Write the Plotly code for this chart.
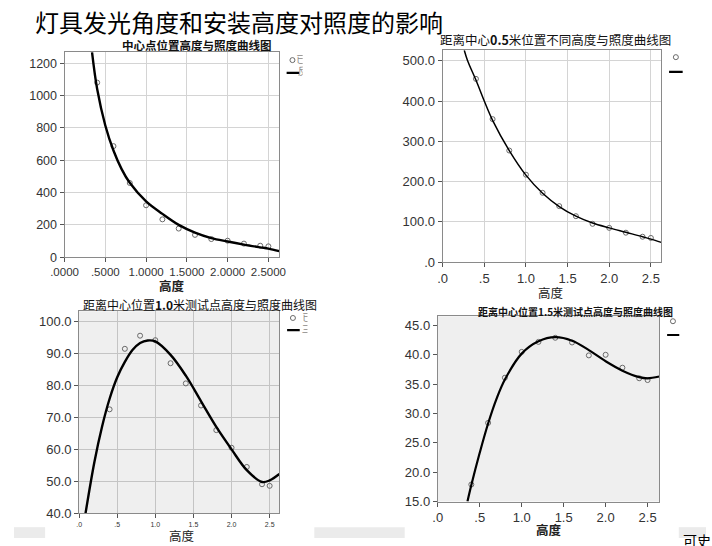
import plotly.graph_objects as go

W, H = 712, 546

# ---------------- data ----------------
heights = [0.4, 0.6, 0.8, 1.0, 1.2, 1.4, 1.6, 1.8, 2.0, 2.2, 2.4, 2.5]
lux_c00 = [1080, 687, 459, 321, 234, 177, 138, 112, 102, 84, 71, 67]
lux_c05 = [455, 355, 277, 217, 172, 139, 114, 95, 85, 73, 63, 60]
lux_c10 = [72.5, 91.4, 95.5, 94.1, 86.9, 80.6, 73.7, 66.0, 60.5, 54.5, 49.1, 48.6]
lux_c15 = [17.9, 28.4, 36.1, 40.5, 42.2, 42.9, 42.1, 39.9, 40.0, 37.8, 36.0, 35.7]

fit_x_c00 = [0.337, 0.4, 0.5, 0.6, 0.7, 0.8, 1.0, 1.2, 1.4, 1.6, 1.8, 2.0, 2.2, 2.4, 2.5, 2.634]
fit_y_c00 = [1268, 1040, 815, 660, 545, 460, 345, 268, 200, 152, 118, 97, 78, 61, 53, 37]

fit_x_c05 = [0.26, 0.3, 0.4, 0.5, 0.6, 0.8, 1.0, 1.2, 1.4, 1.6, 1.8, 2.0, 2.2, 2.4, 2.5, 2.625]
fit_y_c05 = [526, 500, 452, 400, 352, 277, 216, 171, 138, 114, 97, 85, 74, 63, 57, 49]

fit_x_c10 = [0.084, 0.2, 0.3, 0.4, 0.5, 0.6, 0.7, 0.8, 0.9, 1.0, 1.2, 1.4, 1.6, 1.8, 2.0, 2.2, 2.4, 2.5, 2.627]
fit_y_c10 = [40, 56, 67, 75.8, 82.5, 87.3, 91.0, 93.2, 94.0, 93.7, 89.5, 83.0, 75.0, 67.0, 60.0, 53.5, 49.8, 50.3, 52.3]

fit_x_c15 = [0.354, 0.4, 0.5, 0.6, 0.7, 0.8, 1.0, 1.2, 1.4, 1.6, 1.8, 2.0, 2.2, 2.4, 2.5, 2.64]
fit_y_c15 = [15, 17.8, 23.3, 28.3, 32.5, 35.8, 40.2, 42.3, 43.0, 42.4, 40.8, 38.9, 37.3, 36.2, 36.0, 36.3]

main_title = "灯具发光角度和安装高度对照度的影响"
titles = ["<b>中心点位置高度与照度曲线图</b>",
          "距离中心<b>0.5</b>米位置不同高度与照度曲线图",
          "距离中心位置<b>1.0</b>米测试点高度与照度曲线图",
          "<b>距离中心位置1.5米测试点高度与照度曲线图</b>"]
x_title = "高度"
x_ticks = [0, 0.5, 1.0, 1.5, 2.0, 2.5]
x_text_p1 = [".0000", ".5000", "1.0000", "1.5000", "2.0000", "2.5000"]
x_text_p = [".0", ".5", "1.0", "1.5", "2.0", "2.5"]
y_ticks_p1 = [0, 200, 400, 600, 800, 1000, 1200]
y_ticks_p2 = [0, 100, 200, 300, 400, 500]
y_text_p2 = [".0", "100.0", "200.0", "300.0", "400.0", "500.0"]
y_ticks_p3 = [40, 50, 60, 70, 80, 90, 100]
y_ticks_p4 = [15, 20, 25, 30, 35, 40, 45]

def fx(x):
    return x / W

def fy(y):
    return 1 - y / H

SANS = "Liberation Sans, Arial, sans-serif"
CJK = "Noto Sans CJK SC"

fig = go.Figure()

boxes = [(52, 273, 53, 261), (441, 666, 51, 266), (67, 273, 316, 521), (436, 664, 321, 509)]
xranges = [[0, 2.634], [0, 2.625], [0, 2.627], [0, 2.64]]
yranges = [[0, 1268], [0, 526], [40, 103.1], [15, 46.56]]
obs = [lux_c00, lux_c05, lux_c10, lux_c15]
fits = [(fit_x_c00, fit_y_c00), (fit_x_c05, fit_y_c05), (fit_x_c10, fit_y_c10), (fit_x_c15, fit_y_c15)]
line_w = [2.4, 1.5, 2.4, 2.2]

layout_axes = {}
for i in range(4):
    l, r, t, b = boxes[i]
    n = "" if i == 0 else str(i + 1)
    xa = "x" + n
    ya = "y" + n
    fig.add_trace(go.Scatter(x=heights, y=obs[i], mode="markers", xaxis=xa, yaxis=ya,
                             marker=dict(symbol="circle-open", size=5, color="#6a6a6a", line=dict(width=1)),
                             showlegend=False, cliponaxis=True))
    fig.add_trace(go.Scatter(x=fits[i][0], y=fits[i][1], mode="lines", xaxis=xa, yaxis=ya,
                             line=dict(color="black", width=line_w[i], shape="spline", smoothing=1.0),
                             showlegend=False, cliponaxis=True))
    xt = x_text_p1 if i == 0 else x_text_p
    xfs = 7 if i == 2 else (11.5 if i == 0 else 13)
    grid = i != 3
    gcol = "#d4d4d4" if i < 2 else "#c4c4c4"
    layout_axes["xaxis" + n] = dict(domain=[fx(l), fx(r)], range=xranges[i], anchor=ya,
                                    tickvals=x_ticks, ticktext=xt, ticks="outside", ticklen=4,
                                    tickangle=0,
                                    tickcolor="#555", showline=True, mirror=True, linecolor="#8a8a8a",
                                    linewidth=1, showgrid=grid, gridcolor=gcol, zeroline=False,
                                    tickfont=dict(family=SANS, size=xfs, color="#333"))
    if i == 0:
        yv, ytx = y_ticks_p1, [str(v) for v in y_ticks_p1]
    elif i == 1:
        yv, ytx = y_ticks_p2, y_text_p2
    elif i == 2:
        yv, ytx = y_ticks_p3, ["%.1f" % v for v in y_ticks_p3]
    else:
        yv, ytx = y_ticks_p4, ["%.1f" % v for v in y_ticks_p4]
    layout_axes["yaxis" + n] = dict(domain=[fy(b), fy(t)], range=yranges[i], anchor=xa,
                                    tickvals=yv, ticktext=ytx, ticks="outside", ticklen=4,
                                    tickcolor="#555", showline=True, mirror=True, linecolor="#8a8a8a",
                                    linewidth=1, showgrid=grid, gridcolor=gcol, zeroline=False,
                                    tickfont=dict(family=SANS, size=12.5 if i == 0 else 13, color="#333"))

# legend fragments, clipped like the reference
legends = [
    (276, 297, 52, 82, (286.5, 61), (280.5, 293.5, 74), [(290.5, 61, "已"), (292, 74, "反")]),
    (668, 700, 50, 82, (681, 58), (674, 688, 73), []),
    (276, 302, 317, 344, (287, 322.7), (281, 294, 335), [(296.5, 323, "已"), (296, 335.5, "三")]),
    (666, 700, 318, 348, (678, 326), (672, 684.5, 340), []),
]
for k, (l, r, t, b, mk, ln, txts) in enumerate(legends):
    n = str(5 + k)
    xa, ya = "x" + n, "y" + n
    fig.add_trace(go.Scatter(x=[mk[0]], y=[mk[1]], mode="markers", xaxis=xa, yaxis=ya,
                             marker=dict(symbol="circle-open", size=5, color="#6a6a6a", line=dict(width=1)),
                             showlegend=False))
    fig.add_trace(go.Scatter(x=[ln[0], ln[1]], y=[ln[2], ln[2]], mode="lines", xaxis=xa, yaxis=ya,
                             line=dict(color="black", width=2.2), showlegend=False))
    for (tx, ty, tt) in txts:
        fig.add_trace(go.Scatter(x=[tx], y=[ty], mode="text", text=[tt], textposition="middle right",
                                 xaxis=xa, yaxis=ya, cliponaxis=True,
                                 textfont=dict(family=CJK, size=10, color="#8a8a8a"), showlegend=False))
    layout_axes["xaxis" + n] = dict(domain=[fx(l), fx(r)], range=[l, r], visible=False, anchor=ya,
                                    fixedrange=True)
    layout_axes["yaxis" + n] = dict(domain=[fy(b), fy(t)], range=[b, t], visible=False, anchor=xa,
                                    fixedrange=True)

shapes = []
for n in ["3", "4"]:
    shapes.append(dict(type="rect", xref="x%s domain" % n, yref="y%s domain" % n, x0=0, x1=1, y0=0, y1=1,
                       fillcolor="#efefef", line=dict(width=0), layer="below"))
for (x0, x1) in [(0, 32), (309, 402), (684, 712)]:
    shapes.append(dict(type="rect", xref="paper", yref="paper", x0=fx(x0), x1=fx(x1), y0=fy(546), y1=fy(535),
                       fillcolor="#ebebeb", line=dict(width=0), layer="below"))

annotations = []
annotations.append(dict(text=main_title, x=fx(20), y=fy(22), xref="paper", yref="paper", xanchor="left",
                        yanchor="middle", showarrow=False, font=dict(family=CJK, size=24, color="black")))
title_pos = [(188, 46, 11.5), (557, 40, 12.5), (191, 309.5, 12), (578, 316, 10)]
for (cx, cy, fs), tt in zip(title_pos, titles):
    annotations.append(dict(text=tt, x=fx(cx), y=fy(cy), xref="paper", yref="paper", xanchor="center",
                            yanchor="middle", showarrow=False, font=dict(family=CJK, size=fs, color="#111")))
xt_pos = [(163, 290, True), (553, 297, False), (173, 543, False), (550, 537, True)]
for (cx, cy, bold) in xt_pos:
    annotations.append(dict(text="<b>%s</b>" % x_title if bold else x_title, x=fx(cx), y=fy(cy),
                            xref="paper", yref="paper", xanchor="center", yanchor="middle", showarrow=False,
                            font=dict(family=CJK, size=12.5, color="#222")))
annotations.append(dict(text="可史", x=fx(686), y=fy(536), xref="paper", yref="paper", xanchor="left",
                        yanchor="top", showarrow=False, font=dict(family=CJK, size=14, color="black")))

fig.update_layout(width=W, height=H, autosize=False, margin=dict(l=0, r=0, t=0, b=0, pad=0),
                  paper_bgcolor="white", plot_bgcolor="white", showlegend=False,
                  shapes=shapes, annotations=annotations, **layout_axes)

fig.write_html("out.html")
